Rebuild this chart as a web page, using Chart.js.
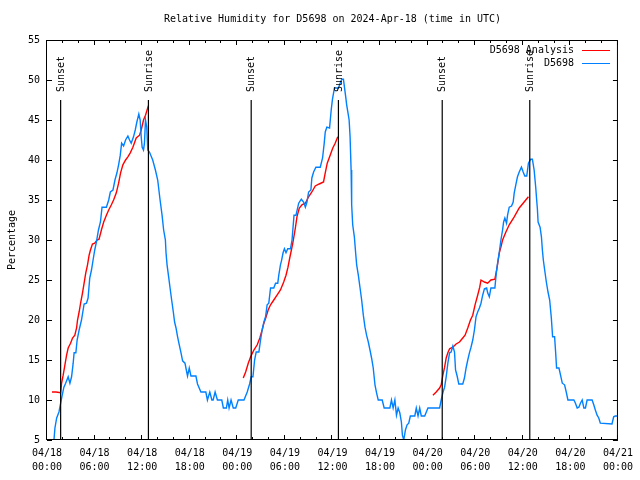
<!DOCTYPE html>
<html>
<head>
<meta charset="utf-8">
<script src="https://cdn.jsdelivr.net/npm/chart.js@4.4.1/dist/chart.umd.min.js"></script>
<style>
  html, body { margin: 0; padding: 0; background: #fff; }
  #wrap { width: 640px; height: 480px; position: relative; }
</style>
</head>
<body>
<div id="wrap"><canvas id="chartRH"></canvas></div>
<script>
'use strict';

//texts

var titleText = "Relative Humidity for D5698 on 2024-Apr-18 (time in UTC)";
var yTitleText = "Percentage";
var seriesNames = ["D5698 Analysis", "D5698"];

//colors

var colorAnalysis = "rgb(255,0,0)";
var colorObs = "rgb(0,128,255)";
var colorAxis = "rgb(0,0,0)";
var fontMono = "'DejaVu Sans Mono', 'Liberation Mono', monospace";

//tick labels (x in hours since 04/18 00:00 UTC)

var xTickLabels = [
    ["04/18", "00:00"], ["04/18", "06:00"], ["04/18", "12:00"], ["04/18", "18:00"],
    ["04/19", "00:00"], ["04/19", "06:00"], ["04/19", "12:00"], ["04/19", "18:00"],
    ["04/20", "00:00"], ["04/20", "06:00"], ["04/20", "12:00"], ["04/20", "18:00"],
    ["04/21", "00:00"]
];

//sunset / sunrise (hours)

var sunsetHours = [1.72, 25.75, 49.84];
var sunriseHours = [12.79, 36.75, 60.88];
var eventLineTop = 47.5;
var eventLabelBase = 48.5;

//observed humidity D5698

var obsHours = [
    0.88, 1.00, 1.22, 1.51, 1.72, 1.92, 2.13, 2.35, 2.67, 2.89, 3.10, 3.30, 3.42, 3.64, 3.80, 4.05,
    4.35, 4.68, 4.98, 5.18, 5.39, 5.61, 5.81, 6.02, 6.23, 6.49, 6.74, 6.94, 7.49, 7.78, 7.99, 8.32,
    8.57, 8.82, 9.03, 9.24, 9.41, 9.66, 9.91, 10.20, 10.41, 10.62, 10.91, 11.13, 11.33, 11.58, 11.75, 11.88,
    12.00, 12.17, 12.29, 12.42, 12.58, 12.71, 12.92, 13.33, 13.67, 13.96, 14.26, 14.51, 14.71, 14.93, 15.01, 15.14,
    15.34, 15.52, 15.72, 15.93, 16.09, 16.27, 16.47, 16.68, 16.90, 17.10, 17.40, 17.52, 17.72, 17.94, 18.15, 18.78,
    18.98, 19.41, 20.03, 20.23, 20.53, 20.79, 20.95, 21.20, 21.49, 22.04, 22.24, 22.62, 22.79, 22.96, 23.21, 23.49,
    23.80, 24.12, 24.84, 25.25, 25.55, 25.75, 25.97, 26.18, 26.38, 26.72, 26.93, 27.13, 27.35, 27.56, 27.76, 27.97,
    28.19, 28.60, 28.82, 29.10, 29.23, 29.44, 29.57, 29.77, 29.94, 30.14, 30.36, 30.70, 30.90, 31.15, 31.40, 31.74,
    32.07, 32.36, 32.58, 32.78, 32.99, 33.28, 33.40, 33.62, 33.91, 34.46, 34.75, 34.96, 35.09, 35.29, 35.63, 35.84,
    36.00, 36.25, 36.75, 36.97, 37.17, 37.38, 37.51, 37.67, 37.79, 37.92, 38.10, 38.22, 38.35, 38.42, 38.55, 38.76,
    38.92, 39.05, 39.26, 39.48, 39.68, 39.89, 40.10, 40.30, 40.52, 40.73, 40.93, 41.14, 41.36, 41.56, 41.77, 42.27,
    42.52, 43.24, 43.44, 43.65, 43.87, 44.07, 44.28, 44.49, 44.69, 44.82, 44.99, 45.20, 45.41, 45.62, 45.82, 46.38,
    46.57, 46.79, 47.00, 47.20, 47.63, 48.04, 49.51, 49.71, 49.92, 50.14, 50.34, 50.55, 50.77, 50.96, 51.18, 51.39,
    51.52, 51.72, 51.93, 52.43, 52.64, 52.85, 53.06, 53.27, 53.47, 53.69, 53.90, 54.10, 54.31, 54.53, 54.73, 54.94,
    55.16, 55.44, 55.57, 55.78, 55.98, 56.48, 56.66, 56.82, 57.04, 57.24, 57.45, 57.58, 57.74, 57.95, 58.08, 58.29,
    58.58, 58.79, 58.92, 59.12, 59.33, 59.55, 59.83, 60.05, 60.25, 60.50, 60.71, 61.00, 61.21, 61.43, 61.63, 61.75,
    61.84, 61.93, 62.18, 62.35, 62.47, 62.59, 62.76, 62.97, 63.18, 63.39, 63.60, 63.76, 64.01, 64.14, 64.26, 64.56,
    64.76, 64.98, 65.27, 65.48, 65.69, 66.44, 66.64, 66.86, 67.07, 67.27, 67.49, 67.70, 67.90, 68.11, 68.74, 68.95,
    69.15, 69.37, 69.58, 69.78, 71.25, 71.46, 71.66, 71.88
];
var obsValues = [
    5, 6.5, 7.75, 8.5, 9.6, 10.6, 11.6, 12.1, 12.9, 12.1, 12.9, 14.6, 15.9, 15.9, 17.5, 18.75,
    20, 22, 22.1, 22.75, 25.25, 26.25, 27.5, 28.75, 29.75, 31.25, 32.25, 34.1, 34.1, 35, 36, 36.25,
    37.5, 38.4, 39.4, 40.6, 42.1, 41.75, 42.5, 43, 42.5, 42.1, 42.9, 43.75, 44.75, 45.75, 45, 42.9,
    41.6, 41.25, 42.1, 45, 44.1, 41.25, 41, 40, 38.75, 37.5, 35, 33.1, 31.25, 30, 28.4, 26.9,
    25.4, 24, 22.5, 21, 19.75, 19, 17.9, 16.9, 15.9, 14.9, 14.6, 14, 13, 14, 13, 13,
    12, 11, 11, 10, 11, 10, 10, 11, 10, 10, 9, 9, 10, 9, 10, 9,
    9, 10, 10, 11, 12, 12.9, 12.9, 15, 16, 16, 17.5, 18.75, 19.75, 20.4, 21.9, 22.1,
    24, 24, 24.6, 24.6, 25.6, 26.9, 27.4, 28.4, 28.9, 28.4, 28.9, 28.9, 30, 33.1, 33.1, 34.6,
    35.1, 34.75, 34.1, 34.75, 36, 36.25, 37.75, 38.5, 39.1, 39.1, 40.25, 42.1, 43.5, 44.1, 44, 46.25,
    47.6, 49, 49, 49.6, 50.1, 50.1, 49.1, 47.9, 46.9, 46.1, 45, 42.9, 38.75, 34.4, 31.9, 30.4,
    28.4, 26.9, 25.6, 24, 22.5, 20.6, 19.1, 18.1, 17.25, 16.25, 15.25, 14, 11.9, 10.9, 10, 10,
    9, 9, 10, 9, 10, 8.1, 9, 8.4, 7.25, 5.6, 5, 6.25, 6.9, 7.1, 8, 8,
    9, 8, 9, 8, 8, 9, 9, 10, 10.9, 11.6, 12.9, 14.6, 15.9, 16, 16.75, 16,
    13.75, 13, 12, 12, 12.75, 14, 15, 15.9, 16.6, 17.5, 18.75, 20.4, 21, 21.5, 22.1, 23.1,
    23.9, 24, 23.4, 22.9, 24, 24, 25.9, 27.1, 28.5, 30, 31.25, 32.25, 32.75, 32.1, 33.1, 34.1,
    34.25, 34.75, 35.9, 36.9, 37.9, 38.5, 39.1, 38.5, 38, 38, 39.6, 40.1, 40.1, 38.75, 36.6, 35,
    33.9, 32.25, 31.6, 30.4, 28.75, 27.5, 26.25, 24.75, 23.5, 22.5, 20.25, 17.9, 17.9, 16, 14, 14,
    13.1, 12.1, 11.9, 11, 10, 10, 9.6, 9, 9.1, 9.6, 10, 9, 9, 10, 10, 9.4,
    8.75, 8.1, 7.75, 7.1, 7, 7.9, 8, 8
];

//analysis (null = no analysis between sunrise and sunset)

var anaHours = [
    0.63, 1.13, 1.72, 1.84, 2.04, 2.26, 2.47, 2.67, 2.97, 3.22, 3.51, 3.73, 3.85, 4.05, 4.26, 4.48,
    4.68, 4.89, 5.11, 5.31, 5.48, 5.73, 6.02, 6.31, 6.56, 6.86, 7.15, 7.49, 7.78, 8.12, 8.40, 8.74,
    9.03, 9.28, 9.57, 9.91, 10.20, 10.50, 10.83, 11.25, 11.67, 11.88, 12.17, 12.42, 12.79, 13.00,
    24.75, 25.05, 25.38, 25.68, 26.09, 26.51, 26.84, 27.13, 27.35, 27.63, 27.89, 28.19, 28.60, 29.01, 29.44, 29.85,
    30.14, 30.39, 30.61, 30.82, 31.02, 31.32, 31.52, 31.82, 32.15, 32.58, 32.99, 33.40, 33.83, 34.33, 34.87, 35.09,
    35.34, 35.71, 36.04, 36.34, 36.67, 37.00,
    48.67, 49.08, 49.51, 49.71, 49.92, 50.14, 50.34, 50.55, 50.77, 51.18, 51.59, 52.02, 52.43, 52.72, 53.06, 53.40,
    53.69, 53.98, 54.31, 54.57, 54.73, 55.16, 55.57, 55.98, 56.48, 56.73, 57.04, 57.24, 57.45, 57.87, 58.29, 58.92,
    59.55, 60.17, 60.71
];
var anaValues = [
    11, 11, 10.9, 12.1, 13.1, 14.4, 15.6, 16.5, 17.1, 17.75, 18.1, 19, 20, 21, 22.25, 23.4,
    24.6, 25.9, 26.9, 28.1, 28.75, 29.5, 29.6, 30, 30.1, 31.25, 32.25, 33.1, 33.75, 34.4, 35, 35.9,
    37.1, 38.4, 39.4, 40, 40.4, 40.9, 41.6, 42.75, 43.1, 43.75, 45, 45.6, 46.8, null,
    12.75, 13.5, 14.6, 15.4, 16.25, 16.9, 17.75, 18.75, 19.6, 20.4, 21.25, 21.9, 22.5, 23.1, 23.75, 24.75,
    25.6, 26.6, 27.75, 28.75, 29.75, 31.5, 32.9, 34, 34.4, 34.6, 35.4, 36, 36.75, 37, 37.25, 38.4,
    39.6, 40.6, 41.5, 42.1, 42.9, null,
    10.6, 11, 11.5, 11.9, 13.1, 14.1, 15.25, 15.9, 16.4, 16.6, 17, 17.25, 17.75, 18.1, 19, 20,
    20.6, 21.9, 23.1, 24.1, 25, 24.75, 24.6, 25, 25.1, 26.4, 28.4, 29.1, 30, 31, 31.9, 32.9,
    34, 34.75, 35.4
];

//build datasets

function toPoints(xs, ys) {
    return xs.map((x, i) => ({ x: x, y: ys[i] }));
}

var eventLines = [];
sunsetHours.concat(sunriseHours).forEach(h => {
    eventLines.push({ x: h, y: 5 }, { x: h, y: eventLineTop }, { x: h, y: null });
});

//plugin: gnuplot-like frame, inward ticks, title, legend and event labels

const gnuplotDecor = {
    id: 'gnuplotDecor',
    afterDraw(chart) {
        const ctx = chart.ctx;
        const a = chart.chartArea;
        const xs = chart.scales.x;
        const ys = chart.scales.y;
        ctx.save();
        ctx.strokeStyle = colorAxis;
        ctx.lineWidth = 1;

        //frame
        ctx.strokeRect(a.left - 0.5, a.top + 0.5, a.right - a.left, a.bottom - a.top - 1);

        //x ticks, major 6h minor 2h, bottom and top
        ctx.beginPath();
        for (let h = 0; h <= 72; h += 2) {
            const px = Math.round(xs.getPixelForValue(h)) - 0.5;
            const len = (h % 6 == 0) ? 5 : 3;
            ctx.moveTo(px, a.bottom); ctx.lineTo(px, a.bottom - len);
            ctx.moveTo(px, a.top); ctx.lineTo(px, a.top + len);
        }
        //y ticks left and right
        for (let v = 5; v <= 55; v += 5) {
            const py = Math.round(ys.getPixelForValue(v)) + 0.5;
            ctx.moveTo(a.left, py); ctx.lineTo(a.left + 5, py);
            ctx.moveTo(a.right, py); ctx.lineTo(a.right - 5, py);
        }
        ctx.stroke();

        ctx.fillStyle = colorAxis;
        ctx.font = "10px " + fontMono;

        //title
        ctx.textAlign = 'center';
        ctx.textBaseline = 'middle';
        ctx.fillText(titleText, (a.left + a.right) / 2, 19);

        //y axis title
        ctx.save();
        ctx.translate(12, (a.top + a.bottom) / 2);
        ctx.rotate(-Math.PI / 2);
        ctx.fillText(yTitleText, 0, 0);
        ctx.restore();

        //event labels
        const baseY = ys.getPixelForValue(eventLabelBase);
        const drawLabel = (h, txt) => {
            ctx.save();
            ctx.translate(xs.getPixelForValue(h) + 0.5, baseY);
            ctx.rotate(-Math.PI / 2);
            ctx.textAlign = 'left';
            ctx.textBaseline = 'middle';
            ctx.fillText(txt, 0, 0);
            ctx.restore();
        };
        sunsetHours.forEach(h => drawLabel(h, "Sunset"));
        sunriseHours.forEach(h => drawLabel(h, "Sunrise"));

        //legend
        const legendColors = [colorAnalysis, colorObs];
        ctx.textAlign = 'right';
        ctx.textBaseline = 'middle';
        seriesNames.forEach((name, i) => {
            const y = 50 + i * 13;
            ctx.fillStyle = colorAxis;
            ctx.fillText(name, 574, y);
            ctx.strokeStyle = legendColors[i];
            ctx.beginPath();
            ctx.moveTo(582, y + 0.5);
            ctx.lineTo(610, y + 0.5);
            ctx.stroke();
        });

        ctx.restore();
    }
};

window.onload = function () {

    new Chart(document.getElementById('chartRH'), {
        type: 'line',
        data: {
            datasets: [
                {
                    label: 'events',
                    data: eventLines,
                    borderColor: colorAxis,
                    borderWidth: 1.2,
                    pointRadius: 0,
                    spanGaps: false,
                    order: 0
                },
                {
                    label: seriesNames[1],
                    data: toPoints(obsHours, obsValues),
                    borderColor: colorObs,
                    borderWidth: 1.4,
                    pointRadius: 0,
                    order: 1
                },
                {
                    label: seriesNames[0],
                    data: toPoints(anaHours, anaValues),
                    borderColor: colorAnalysis,
                    borderWidth: 1.4,
                    pointRadius: 0,
                    spanGaps: false,
                    order: 2
                }
            ]
        },
        options: {
            responsive: true,
            maintainAspectRatio: false,
            animation: false,
            events: [],
            layout: { padding: { top: 40, right: 19, left: 0, bottom: 0 } },
            plugins: {
                legend: { display: false },
                title: { display: false },
                tooltip: { enabled: false }
            },
            scales: {
                x: {
                    type: 'linear',
                    min: 0,
                    max: 72,
                    grid: { display: false, drawTicks: false },
                    border: { display: false },
                    ticks: {
                        stepSize: 6,
                        autoSkip: false,
                        maxRotation: 0,
                        padding: 7,
                        color: colorAxis,
                        font: { family: fontMono, size: 10, lineHeight: 1.35 },
                        callback: (v) => xTickLabels[Math.round(v / 6)]
                    },
                    afterFit: (s) => { s.height = 40; }
                },
                y: {
                    min: 5,
                    max: 55,
                    grid: { display: false, drawTicks: false },
                    border: { display: false },
                    ticks: {
                        stepSize: 5,
                        padding: 7,
                        color: colorAxis,
                        font: { family: fontMono, size: 10 }
                    },
                    afterFit: (s) => { s.width = 47; }
                }
            }
        },
        plugins: [gnuplotDecor]
    });
}
</script>
</body>
</html>
